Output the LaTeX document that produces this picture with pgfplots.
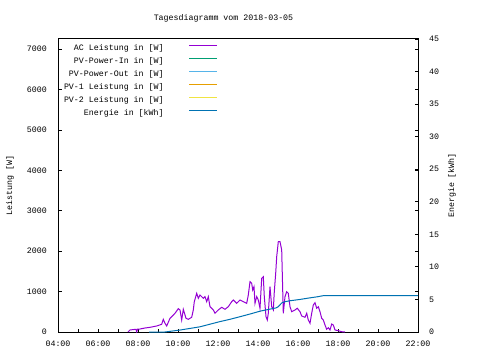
\documentclass[border=0pt]{standalone}
\usepackage{pgfplots}
\pgfplotsset{compat=1.18}
\usepackage{fontspec}
\setmainfont{Liberation Mono}
\definecolor{cAC}{HTML}{9400D3}
\definecolor{cIn}{HTML}{009E73}
\definecolor{cOut}{HTML}{56B4E9}
\definecolor{cPVa}{HTML}{E69F00}
\definecolor{cPVb}{HTML}{F0E442}
\definecolor{cEn}{HTML}{0072B2}
\newcommand{\gf}{\fontsize{8.3}{10}\selectfont}
\begin{document}
\gf
\begin{tikzpicture}[x=1pt,y=1pt]
\useasboundingbox (0,0) rectangle (480,360);
\pgfplotsset{
  every axis/.append style={
    at={(58pt,28pt)}, anchor=south west,
    width=360pt, height=293pt, scale only axis,
    xmin=4, xmax=22,
    tick align=inside,
    major tick length=3.5pt, minor tick length=3.5pt,
    tick style={black, line width=0.8pt},
    axis line style={line width=1pt},
    /pgf/number format/assume math mode=true,
    tick label style={font=\gf, inner sep=0pt},
    label style={font=\gf},
  },
}
\begin{axis}[
  ymin=0, ymax=7250,
  xtick={4,6,...,22},
  xticklabels={04:00,06:00,08:00,10:00,12:00,14:00,16:00,18:00,20:00,22:00},
  minor x tick num=1,
  xtick pos=bottom,
  x tick label style={yshift=-8.5pt},
  ytick={0,1000,...,7000},
  yticklabels={0,1000,2000,3000,4000,5000,6000,7000},
  ytick pos=both, yticklabel pos=left,
  y tick label style={xshift=-11pt},
  ylabel={Leistung [W]},
  every axis y label/.style={at={(axis description cs:0,0.5)}, xshift=-48pt, rotate=90, anchor=center},
]
\addplot[cAC, line width=1pt] coordinates {
(7.5,0) (7.6,50) (7.8,62) (7.9,62) (7.935,0) (7.975,74) (8.1,74) (8.35,99)
(8.6,116) (8.935,149) (9.185,191) (9.265,314) (9.35,215) (9.435,149) (9.6,339)
(9.85,463) (10.015,577) (10.1,545) (10.185,297) (10.265,562) (10.4,339)
(10.515,314) (10.685,364) (10.765,545) (10.815,750) (10.935,958) (11.015,834)
(11.1,916) (11.265,834) (11.35,874) (11.435,750) (11.515,874) (11.6,626)
(11.765,545) (11.85,463) (12.015,545) (12.185,611) (12.35,562) (12.515,626)
(12.685,750) (12.765,792) (12.935,710) (13.1,792) (13.265,750) (13.435,710)
(13.515,916) (13.6,1245) (13.685,1205) (13.735,1040) (13.8,1121) (13.85,710)
(13.935,874) (14.015,792) (14.1,587) (14.185,1329) (14.265,1369) (14.315,874)
(14.4,379) (14.465,297) (14.515,463) (14.6,1121) (14.685,626) (14.765,545)
(14.815,997) (14.885,1453) (14.935,1864) (15.015,2235) (15.1,2235) (15.185,2030)
(15.235,1040) (15.265,463) (15.35,874) (15.435,997) (15.515,958) (15.6,626)
(15.685,502) (15.85,545) (15.965,587) (16.1,502) (16.185,396) (16.35,364)
(16.435,463) (16.515,297) (16.6,215) (16.685,463) (16.765,668) (16.85,725)
(16.935,587) (17.015,626) (17.1,502) (17.185,339) (17.265,297) (17.35,173)
(17.435,67) (17.515,106) (17.6,50) (17.685,198) (17.765,173) (17.85,50)
(18.015,32) (18.185,7) (18.35,0)
};
\end{axis}
\begin{axis}[
  ymin=0, ymax=45,
  axis x line=none,
  axis y line*=right,
  ytick={0,5,...,45},
  yticklabels={0,5,10,15,20,25,30,35,40,45},
  ytick pos=right, yticklabel pos=right,
  y tick label style={xshift=11pt, anchor=west},
  ylabel={Energie [kWh]},
  every axis y label/.style={at={(axis description cs:1,0.5)}, xshift=34pt, rotate=90, anchor=center},
  legend cell align=right,
  legend plot pos=right,
  legend image code/.code={\draw[line width=1.2pt,#1] (0pt,3pt) -- (28pt,3pt);},
  legend style={draw=none, fill=none, inner sep=0pt, outer sep=0pt,
    at={(axis description cs:0.0167,0.981)}, anchor=north west,
    font=\gf, row sep=5pt, column sep=0pt,
    nodes={inner sep=0pt, text height=6pt, text depth=2pt},
    /tikz/every odd column/.append style={column sep=25pt}},
]
\addlegendimage{color=cAC}
\addlegendentry{AC Leistung in [W]}
\addlegendimage{color=cIn}
\addlegendentry{PV-Power-In in [W]}
\addlegendimage{color=cOut}
\addlegendentry{PV-Power-Out in [W]}
\addlegendimage{color=cPVa}
\addlegendentry{PV-1 Leistung in [W]}
\addlegendimage{color=cPVb}
\addlegendentry{PV-2 Leistung in [W]}
\addplot[color=cEn, line width=1pt] coordinates {
(8.55,0) (9.35,0) (9.6,0.1) (10.1,0.3) (10.6,0.55) (11.1,0.8) (11.6,1.2)
(12.1,1.6) (12.6,1.95) (13.1,2.35) (13.6,2.76) (14.1,3.2) (14.5,3.45)
(14.9,3.7) (15.0,3.85) (15.2,4.5) (15.35,4.65) (15.6,4.8) (16.1,5.0)
(16.5,5.2) (16.95,5.4) (17.3,5.6) (22,5.6)
};
\addlegendentry{Energie in [kWh]}
\end{axis}
\node[font=\gf] at (223.5,342) {Tagesdiagramm vom 2018-03-05};
\end{tikzpicture}
\end{document}
